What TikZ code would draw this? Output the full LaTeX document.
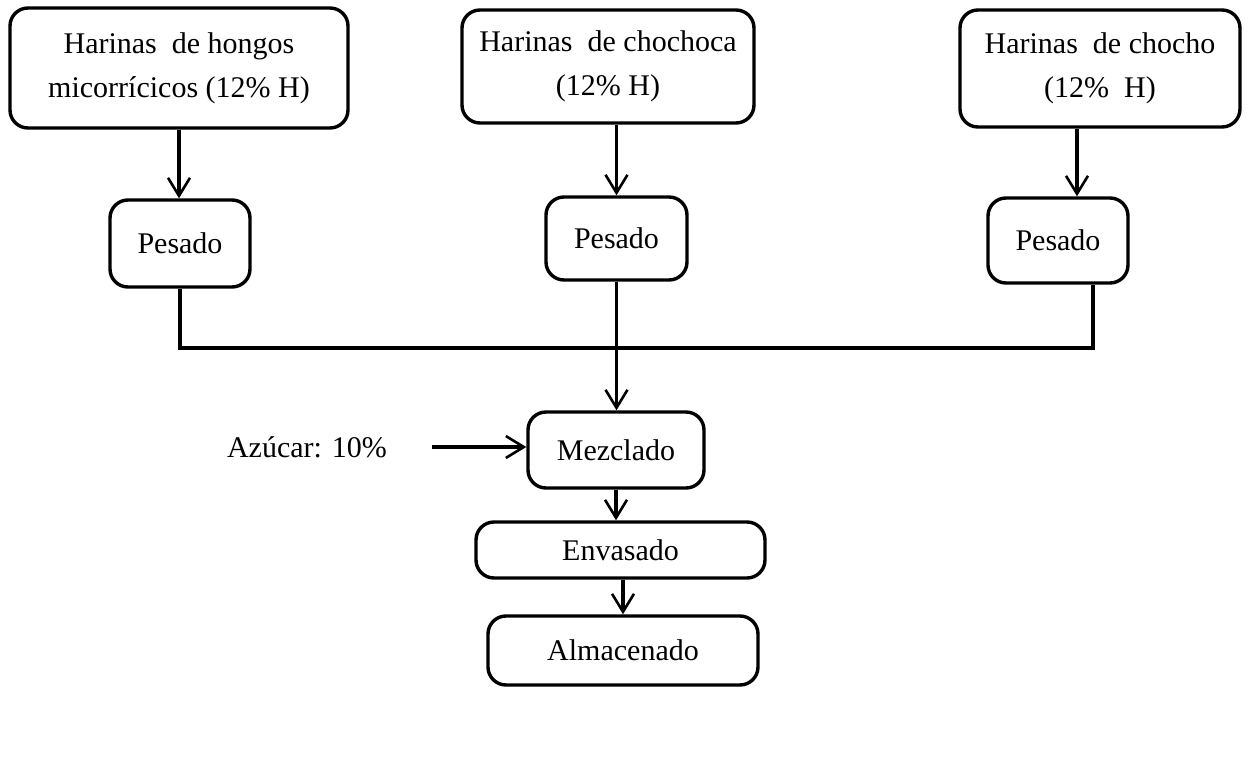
\documentclass[tikz,border=0pt]{standalone}
\usepackage{fontspec}
\setmainfont{Liberation Serif}
\usetikzlibrary{arrows.meta}
\begin{document}
\begin{tikzpicture}[x=0.5pt,y=-0.5pt,
  box/.style={draw=black, line width=1.7pt, rounded corners=9pt, align=center,
    inner sep=0pt, font=\fontsize{15}{22}\selectfont},
  lbl/.style={inner sep=0pt, font=\fontsize{15}{22}\selectfont},
  conn/.style={line width=1.7pt},
  arr/.style={line width=1.7pt, -{Straight Barb[length=9pt,width=11pt,line width=1.3pt]}}]
\path[use as bounding box, fill=white] (0,0) rectangle (1250,775);
% top boxes
\node[box, minimum width=169pt, minimum height=60pt] (TL) at (179,68) {Harinas\ \ de hongos\\micorrícicos (12\% H)};
\node[box, minimum width=146pt, minimum height=56.5pt] (TM) at (608,66.5) {Harinas\ \ de chochoca\\(12\% H)};
\node[box, minimum width=140pt, minimum height=58.5pt] (TR) at (1100,68.5) {Harinas\ \ de chocho\\(12\%\ \ H)};
% pesado
\node[box, minimum width=70pt, minimum height=43.5pt] (PL) at (180,243.5) {Pesado};
\node[box, minimum width=70.5pt, minimum height=41.5pt] (PM) at (616.5,238.5) {Pesado};
\node[box, minimum width=70pt, minimum height=42.5pt] (PR) at (1058,240.5) {Pesado};
% process
\node[box, minimum width=88pt, minimum height=38pt] (MZ) at (616,450) {Mezclado};
\node[box, minimum width=144.5pt, minimum height=28pt] (EN) at (620.5,550) {Envasado};
\node[box, minimum width=135pt, minimum height=34.5pt] (AL) at (623,650.5) {Almacenado};
\node[lbl] (AZ) at (307,447) {Azúcar: 10\%};
\coordinate (azs) at (432,447);
\coordinate (rb) at (1093,348);
\coordinate (ra) at (1077,0);
% connectors
\draw[arr] (TL.south) -- (TL.south |- PL.north);
\draw[arr] (PM.north |- TM.south) -- (PM.north);
\draw[arr] (ra |- TR.south) -- (ra |- PR.north);
\draw[conn] (PL.south) |- (rb) -- (rb |- PR.south);
\draw[arr] (PM.south) -- (PM.south |- MZ.north);
\draw[arr] (azs) -- (azs -| MZ.west);
\draw[arr] (MZ.south) -- (MZ.south |- EN.north);
\draw[arr] (AL.north |- EN.south) -- (AL.north);
\end{tikzpicture}
\end{document}
